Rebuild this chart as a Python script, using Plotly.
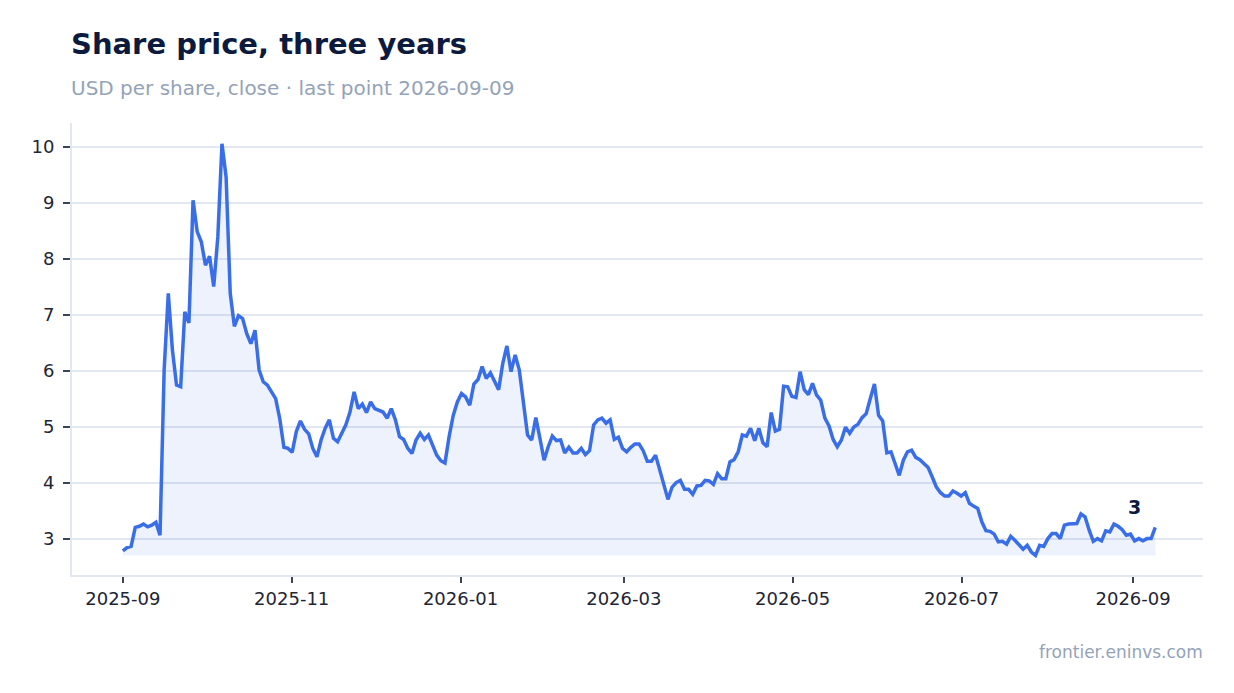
import pandas as pd
import plotly.graph_objects as go

# ----------------------------------------------------------------------
# data (closing price, USD, oldest first)
# ----------------------------------------------------------------------
start_date = "2025-09-01"
end_date = "2026-09-09"

price = [
    2.79, 2.85, 2.87, 3.21, 3.23, 3.27, 3.22, 3.25, 3.30, 3.07,
    6.02, 7.39, 6.38, 5.75, 5.72, 7.06, 6.86, 9.05, 8.49, 8.31,
    7.89, 8.05, 7.51, 8.40, 10.06, 9.47, 7.39, 6.80, 6.99, 6.94,
    6.67, 6.49, 6.73, 6.02, 5.81, 5.75, 5.63, 5.51, 5.15, 4.64,
    4.62, 4.55, 4.92, 5.11, 4.96, 4.88, 4.62, 4.47, 4.77, 4.98,
    5.13, 4.80, 4.74, 4.88, 5.04, 5.27, 5.63, 5.33, 5.41, 5.26,
    5.45, 5.33, 5.30, 5.27, 5.16, 5.33, 5.13, 4.83, 4.78, 4.62,
    4.53, 4.77, 4.89, 4.78, 4.86, 4.68, 4.50, 4.40, 4.36, 4.83,
    5.21, 5.45, 5.60, 5.54, 5.39, 5.77, 5.85, 6.08, 5.87, 5.97,
    5.83, 5.67, 6.14, 6.45, 5.99, 6.29, 6.02, 5.42, 4.86, 4.77,
    5.17, 4.80, 4.41, 4.65, 4.84, 4.76, 4.77, 4.54, 4.64, 4.54,
    4.54, 4.62, 4.51, 4.58, 5.04, 5.13, 5.16, 5.07, 5.13, 4.78,
    4.82, 4.62, 4.56, 4.64, 4.70, 4.70, 4.58, 4.39, 4.39, 4.50,
    4.23, 3.98, 3.71, 3.93, 4.01, 4.05, 3.89, 3.89, 3.80, 3.95,
    3.96, 4.05, 4.04, 3.98, 4.17, 4.08, 4.08, 4.38, 4.42, 4.56,
    4.86, 4.84, 4.98, 4.76, 4.98, 4.72, 4.65, 5.26, 4.93, 4.96,
    5.73, 5.72, 5.55, 5.53, 5.99, 5.67, 5.58, 5.78, 5.57, 5.48,
    5.16, 5.02, 4.78, 4.65, 4.77, 5.00, 4.89, 5.00, 5.05, 5.17,
    5.24, 5.51, 5.77, 5.21, 5.11, 4.54, 4.56, 4.35, 4.14, 4.41,
    4.56, 4.59, 4.46, 4.42, 4.36, 4.28, 4.11, 3.93, 3.83, 3.77,
    3.77, 3.86, 3.82, 3.77, 3.83, 3.64, 3.59, 3.55, 3.31, 3.15,
    3.14, 3.09, 2.95, 2.96, 2.91, 3.05, 2.98, 2.89, 2.82, 2.89,
    2.77, 2.71, 2.89, 2.87, 3.01, 3.10, 3.10, 3.01, 3.25, 3.27,
    3.27, 3.28, 3.45, 3.40, 3.16, 2.96, 3.01, 2.97, 3.15, 3.13,
    3.27, 3.23, 3.17, 3.07, 3.09, 2.97, 3.01, 2.97, 3.01, 3.01,
    3.21,
]

dates = pd.date_range(start_date, end_date, periods=len(price))
floor = [min(price)] * len(price)

LINE = "#3a6ee8"
NAVY = "#0c1a3e"
MUTED = "#94a3b8"
GRID = "#e3e7ef"

# ----------------------------------------------------------------------
# figure
# ----------------------------------------------------------------------
fig = go.Figure()

# invisible floor so the fill stops at the lowest close
fig.add_trace(go.Scatter(
    x=dates, y=floor, mode="lines",
    line=dict(width=0, color=LINE),
    hoverinfo="skip", showlegend=False,
))

fig.add_trace(go.Scatter(
    x=dates, y=price, mode="lines",
    line=dict(color=LINE, width=3.5),
    fill="tonexty", fillcolor="rgba(58,110,232,0.09)",
    name="Close", showlegend=False,
))

fig.add_annotation(
    x=dates[-1], y=price[-1], text=f"<b>{price[-1]:.0f}</b>",
    showarrow=False, xshift=-21, yshift=20,
    font=dict(size=19, color=NAVY),
)

# title, subtitle, source
fig.add_annotation(
    xref="paper", yref="paper", x=0, y=1.175, xanchor="left", yanchor="middle",
    text="<b>Share price, three years</b>", showarrow=False, xshift=-3,
    font=dict(size=29, color=NAVY),
)
fig.add_annotation(
    xref="paper", yref="paper", x=0, y=1.078, xanchor="left", yanchor="middle",
    text="USD per share, close · last point " + end_date, showarrow=False, xshift=-3,
    font=dict(size=20, color=MUTED),
)
fig.add_annotation(
    xref="paper", yref="paper", x=1, y=-0.17, xanchor="right", yanchor="middle",
    text="frontier.eninvs.com", showarrow=False, xshift=2,
    font=dict(size=17, color=MUTED),
)

# page has an 8px body margin, so the figure is sized to fit inside it
fig.update_layout(
    width=1226, height=685,
    margin=dict(l=64, r=31, t=115, b=118),
    paper_bgcolor="white", plot_bgcolor="white",
    font=dict(family="DejaVu Sans", color="#1e2535", size=18),
    showlegend=False,
)

fig.update_xaxes(
    range=["2025-08-13 15:00", "2026-09-26 06:00"],
    tick0="2025-09-01", dtick="M2", tickformat="%Y-%m",
    showgrid=False, zeroline=False,
    showline=True, linecolor=GRID, linewidth=2,
    ticks="outside", ticklen=6, tickwidth=2, tickcolor="#3d4455",
)
fig.update_yaxes(
    range=[2.36, 10.43], dtick=1,
    showgrid=True, gridcolor=GRID, gridwidth=2, zeroline=False,
    showline=True, linecolor=GRID, linewidth=2,
    ticks="outside", ticklen=7, tickwidth=2, tickcolor="#3d4455",
    ticklabelstandoff=5,
)

fig.write_html("out.html")
